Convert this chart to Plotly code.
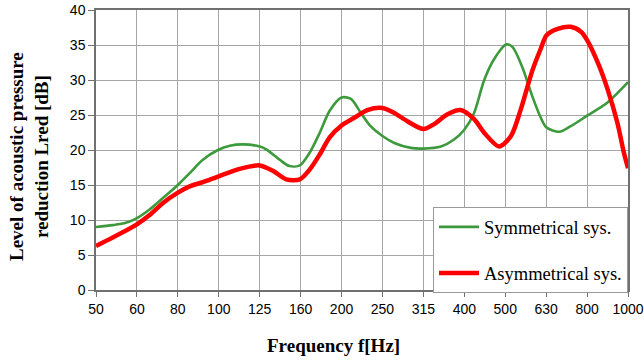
import plotly.graph_objects as go

# Frequency band tick labels (equally spaced categories)
freq_labels = ["50", "60", "80", "100", "125", "160", "200", "250", "315",
               "400", "500", "630", "800", "1000"]

# Symmetrical system: position on the band axis (0 = 50 Hz ... 13 = 1000 Hz) and level [dB]
sym_pos = [0, 0.41, 0.73, 0.98, 1.31, 1.63, 2.0, 2.29, 2.61, 2.98, 3.27, 3.59, 4.0, 4.16,
           4.49, 4.73, 4.98, 5.22, 5.47, 5.71, 6.0, 6.23, 6.47, 6.71, 7.0, 7.29, 7.69, 8.0,
           8.43, 8.75, 9.0, 9.24, 9.48, 9.73, 10.03, 10.18, 10.42, 10.66, 10.87, 11.01,
           11.32, 11.6, 12.0, 12.5, 13.0]
sym_val = [9.0, 9.27, 9.6, 10.2, 11.5, 13.1, 15.0, 16.7, 18.6, 20.0, 20.6, 20.8, 20.5, 20.1,
           18.6, 17.7, 17.8, 19.6, 22.5, 25.6, 27.5, 27.3, 25.3, 23.4, 22.0, 21.0, 20.3, 20.2,
           20.5, 21.5, 22.9, 25.3, 29.9, 33.0, 35.1, 34.7, 31.8, 27.7, 24.6, 23.2,
           22.6, 23.4, 24.9, 26.8, 29.7]

# Asymmetrical system
asym_pos = [0, 0.41, 0.98, 1.31, 1.63, 2.0, 2.29, 2.61, 2.98, 3.51, 4.0, 4.33, 4.65, 4.98,
            5.22, 5.47, 5.71, 6.0, 6.31, 6.63, 7.0, 7.29, 7.61, 8.0, 8.26, 8.59, 8.91,
            9.24, 9.48, 9.85, 10.14, 10.38, 10.66, 10.87, 11.01, 11.28, 11.6, 11.85, 12.0,
            12.29, 12.5, 12.74, 12.9, 13.0]
asym_val = [6.3, 7.5, 9.3, 10.7, 12.4, 13.9, 14.8, 15.4, 16.2, 17.3, 17.8, 17.0, 15.8, 15.8,
            17.2, 19.4, 21.8, 23.5, 24.6, 25.7, 26.0, 25.3, 24.1, 23.0, 23.7, 25.1, 25.7,
            24.4, 22.5, 20.5, 22.0, 25.8, 31.3, 34.5, 36.4, 37.3, 37.6, 36.9, 35.7,
            32.1, 28.7, 23.9, 19.6, 17.4]

y_ticks = [0, 5, 10, 15, 20, 25, 30, 35, 40]

serif = "Liberation Serif, Times New Roman, serif"

W, H = 644, 363
ML, MR, MT, MB = 96, 16, 10, 73
PW, PH = W - ML - MR, H - MT - MB

fig = go.Figure()
fig.add_trace(go.Scatter(x=sym_pos, y=sym_val, mode="lines", name="Symmetrical sys.",
                         line=dict(color="#3c9a3c", width=2.6, shape="spline", smoothing=0.8),
                         legendgroup="a"))
fig.add_trace(go.Scatter(x=asym_pos, y=asym_val, mode="lines", name="Asymmetrical sys.",
                         line=dict(color="#ff0000", width=4.5, shape="spline", smoothing=0.8),
                         legendgroup="b"))

fig.update_layout(
    width=W, height=H,
    margin=dict(l=ML, r=MR, t=MT, b=MB, autoexpand=False),
    paper_bgcolor="white", plot_bgcolor="white",
    font=dict(family="Liberation Sans, Arial, sans-serif", size=14, color="black"),
    showlegend=True,
    legend=dict(x=1, xanchor="right", y=-0.012, yanchor="bottom",
                bgcolor="white", bordercolor="#9a9a9a", borderwidth=1,
                font=dict(family=serif, size=18.5, color="black"),
                tracegroupgap=19, itemwidth=40),
    annotations=[
        dict(text="<b>Frequency f[Hz]</b>", xref="paper", yref="paper",
             x=(333 - ML) / PW, y=(MT + PH - 345) / PH, xanchor="center", yanchor="middle",
             showarrow=False, font=dict(family=serif, size=19, color="black")),
        dict(text="<b>Level of acoustic pressure<br>reduction Lred [dB]</b>", xref="paper", yref="paper",
             x=(29 - ML) / PW, y=(MT + PH - 157) / PH, xanchor="center", yanchor="middle",
             textangle=-90, showarrow=False, font=dict(family=serif, size=19, color="black")),
    ],
)
fig.update_xaxes(
    range=[0, 13], tickmode="array", tickvals=list(range(len(freq_labels))), ticktext=freq_labels,
    showgrid=True, gridcolor="#a6a6a6", gridwidth=1,
    showline=True, linecolor="#707070", linewidth=1.5, mirror=True,
    ticks="outside", ticklen=5, tickcolor="#707070",
    zeroline=False, automargin=False,
)
fig.update_yaxes(
    range=[0, 40], tickmode="array", tickvals=y_ticks,
    showgrid=True, gridcolor="#a6a6a6", gridwidth=1,
    showline=True, linecolor="#707070", linewidth=1.5, mirror=True,
    ticks="outside", ticklen=6, tickcolor="#707070",
    zeroline=False, automargin=False,
)

fig.write_html("out.html")
